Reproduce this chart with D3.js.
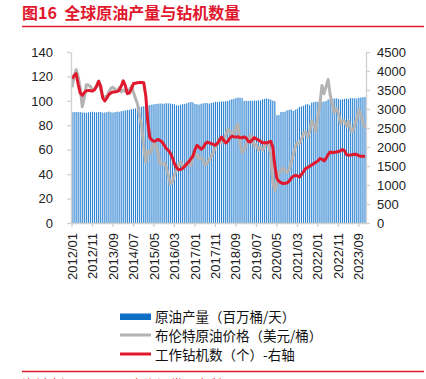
<!DOCTYPE html>
<html>
<head>
<meta charset="utf-8">
<script src="https://cdn.jsdelivr.net/npm/d3@7"></script>
<style>
  body { margin: 0; background: #fff; }
  svg { display: block; font-family: "Liberation Sans", "Noto Sans CJK SC", sans-serif; }
</style>
</head>
<body>
<div id="chart"></div>
<script>
// monthly data 2012/01 - 2023/12
var years = d3.range(2012, 2024);
var months = [];
years.forEach(function(y){ for (var m = 1; m <= 12; m++) months.push(y + "/" + (m < 10 ? "0" + m : m)); });

// 原油产量 (百万桶/天)
var production = [
  90.6, 90.8, 90.9, 90.7, 90.9, 90.5, 90.4, 90.2, 90.6, 90.8, 91.1, 90.7,
  90.6, 90.9, 91.0, 90.3, 90.5, 90.7, 91.2, 90.6, 90.4, 90.8, 91.2, 91.0,
  91.5, 91.8, 92.1, 92.5, 92.7, 93.1, 93.4, 93.8, 94.3, 94.8, 95.2, 95.6,
  95.8, 96.2, 96.6, 96.9, 97.2, 97.5, 97.6, 97.9, 97.7, 97.6, 98.1, 97.9,
  97.8, 97.5, 97.2, 96.4, 96.2, 96.9, 97.3, 97.5, 98.0, 98.6, 99.1, 98.8,
  97.5, 97.2, 97.0, 97.6, 97.9, 98.3, 98.1, 97.8, 98.4, 98.6, 99.2, 99.0,
  99.3, 99.5, 99.6, 99.7, 99.9, 100.6, 101.3, 101.6, 102.3, 102.7, 102.5, 102.3,
  100.0, 100.1, 99.9, 100.2, 100.0, 100.3, 100.1, 100.5, 100.3, 101.3, 101.6, 101.9,
  101.5, 101.0, 100.2, 99.7, 88.2, 88.5, 90.9, 91.0, 91.2, 92.3, 92.6, 92.9,
  91.7, 92.8, 93.5, 95.0, 95.4, 96.0, 97.0, 97.3, 96.5, 98.6, 98.9, 99.4,
  99.1, 99.6, 99.1, 99.4, 99.8, 101.1, 101.5, 101.3, 101.9, 102.0, 101.6, 101.0,
  101.3, 101.6, 101.9, 101.5, 102.4, 102.1, 102.2, 101.9, 102.6, 102.8, 102.9, 103.2
];

// 布伦特原油价格 (美元/桶)
var brent = [
  111.2, 119.7, 125.5, 119.8, 110.3, 95.2, 102.6, 113.2, 112.9, 111.7, 109.1, 109.5,
  112.3, 116.1, 109.5, 103.3, 103.3, 103.3, 107.4, 110.3, 111.2, 109.4, 107.9, 110.8,
  107.4, 108.8, 107.7, 108.1, 109.2, 111.9, 106.9, 101.9, 97.3, 87.3, 79.4, 62.3,
  49.8, 58.8, 57.0, 60.9, 65.6, 63.8, 56.8, 48.2, 48.5, 49.3, 45.9, 38.9,
  31.9, 33.5, 39.8, 43.3, 47.7, 49.9, 46.6, 47.2, 47.2, 51.4, 47.1, 55.0,
  55.5, 56.0, 52.5, 53.8, 51.4, 47.6, 49.1, 51.9, 55.2, 57.5, 62.7, 64.1,
  69.1, 65.7, 66.7, 71.6, 77.0, 74.4, 74.3, 73.0, 78.9, 81.0, 65.0, 57.7,
  60.2, 64.4, 66.9, 71.6, 70.3, 63.0, 64.2, 59.5, 62.3, 59.6, 62.7, 65.2,
  63.6, 55.5, 33.7, 26.6, 32.4, 40.8, 43.2, 45.0, 41.9, 41.5, 43.9, 50.2,
  55.3, 62.3, 65.8, 65.3, 68.3, 73.4, 74.3, 70.5, 74.9, 83.8, 80.8, 74.8,
  86.5, 97.1, 112.5, 105.9, 111.6, 117.5, 105.1, 97.7, 90.6, 93.6, 90.4, 81.3,
  83.9, 83.5, 79.2, 83.4, 75.7, 75.0, 80.1, 85.1, 92.6, 88.7, 82.0, 77.6
];

// 工作钻机数 (个) - 右轴
var rigs = [
  3800, 3880, 3930, 3650, 3420, 3360, 3430, 3480, 3490, 3480, 3470, 3510,
  3600, 3730, 3600, 3290, 3210, 3290, 3380, 3420, 3450, 3450, 3460, 3490,
  3600, 3740, 3620, 3405, 3420, 3530, 3670, 3680, 3690, 3700, 3695, 3690,
  3350, 2650, 2250, 2180, 2150, 2170, 2200, 2170, 2130, 2050, 1960, 1910,
  1840, 1720, 1560, 1460, 1405, 1410, 1440, 1490, 1560, 1610, 1690, 1760,
  1930, 2045, 2000, 1940, 1980, 2080, 2130, 2110, 2090, 2070, 2045, 2100,
  2180, 2264, 2180, 2106, 2150, 2230, 2282, 2270, 2260, 2270, 2250, 2240,
  2264, 2240, 2150, 2130, 2190, 2246, 2210, 2180, 2150, 2106, 2120, 2100,
  2130, 2150, 2000, 1500, 1168, 1100, 1060, 1037, 1045, 1053, 1100, 1180,
  1230, 1255, 1240, 1210, 1280, 1350, 1431, 1460, 1490, 1530, 1563, 1600,
  1630, 1694, 1680, 1632, 1700, 1800, 1869, 1850, 1860, 1869, 1880, 1900,
  1932, 1900, 1800, 1780, 1790, 1800, 1808, 1800, 1770, 1755, 1760, 1737
];

var leftTicks = [0, 20, 40, 60, 80, 100, 120, 140];
var rightTicks = [0, 500, 1000, 1500, 2000, 2500, 3000, 3500, 4000, 4500];
var xLabels = months.filter(function(d, i){ return i % 10 === 0; });
var legendNames = ["原油产量（百万桶/天）", "布伦特原油价格（美元/桶）", "工作钻机数（个）-右轴"];

var red = "#e0182d";
var W = 426, H = 379;
var plotL = 71, plotR = 366, plotT = 52, plotB = 223;

var svg = d3.select("#chart").append("svg")
    .attr("width", W)
    .attr("height", H);

// title
svg.append("text")
    .attr("x", 22).attr("y", 19)
    .attr("fill", red)
    .attr("font-size", 16)
    .attr("font-weight", "bold")
    .attr("font-family", "'Noto Sans CJK SC', sans-serif")
    .text("图16\u00a0\u00a0全球原油产量与钻机数量");
svg.append("line")
    .attr("x1", 22).attr("x2", 424).attr("y1", 26.5).attr("y2", 26.5)
    .attr("stroke", red).attr("stroke-width", 1.3);

var x = d3.scaleBand().domain(months).range([plotL, plotR]);
var yL = d3.scaleLinear().domain([0, 140]).range([plotB, plotT]);
var yR = d3.scaleLinear().domain([0, 4500]).range([plotB, plotT]);

// bars
svg.append("g").selectAll("rect")
    .data(production)
    .enter().append("rect")
    .attr("x", function(d, i){ return x(months[i]) + x.bandwidth() * 0.22; })
    .attr("width", x.bandwidth() * 0.56)
    .attr("y", function(d){ return yL(d); })
    .attr("height", function(d){ return yL(0) - yL(d); })
    .attr("fill", "#2f84d2");

var cx = function(d, i){ return x(months[i]) + x.bandwidth() / 2; };

svg.append("path")
    .datum(brent)
    .attr("fill", "none")
    .attr("stroke", "#b3b3b3")
    .attr("stroke-width", 3)
    .attr("stroke-linejoin", "round")
    .attr("d", d3.line().x(cx).y(function(d){ return yL(d); }));

svg.append("path")
    .datum(rigs)
    .attr("fill", "none")
    .attr("stroke", red)
    .attr("stroke-width", 3)
    .attr("stroke-linejoin", "round")
    .attr("d", d3.line().x(cx).y(function(d){ return yR(d); }));

// axes
var axisColor = "#d0d0d0";
function styleAxis(g) {
  g.select(".domain").attr("stroke", axisColor).attr("stroke-width", 1.3);
  g.selectAll(".tick line").attr("stroke", axisColor).attr("stroke-width", 1.3);
  g.selectAll(".tick text").attr("fill", "#222").attr("font-size", 13);
}

svg.append("g")
    .attr("transform", "translate(" + plotL + ",0)")
    .call(d3.axisLeft(yL).tickValues(leftTicks).tickSize(4).tickSizeOuter(0).tickPadding(14))
    .call(styleAxis);

svg.append("g")
    .attr("transform", "translate(" + plotR + ",0)")
    .call(d3.axisRight(yR).tickValues(rightTicks).tickFormat(d3.format("d")).tickSize(4).tickSizeOuter(0).tickPadding(7))
    .call(styleAxis);

var gx = svg.append("g")
    .attr("transform", "translate(0," + plotB + ")")
    .call(d3.axisBottom(x).tickValues(xLabels).tickSize(4).tickSizeOuter(0).tickPadding(7))
    .call(styleAxis);
gx.selectAll(".tick text")
    .attr("transform", "rotate(-90)")
    .attr("text-anchor", "end")
    .attr("dy", "0.35em")
    .attr("x", -10)
    .attr("y", 0);

// legend
var lg = svg.append("g").attr("transform", "translate(120,0)");
lg.append("rect").attr("x", 0).attr("y", 313.5).attr("width", 31).attr("height", 6.5).attr("fill", "#0f6fc6");
lg.append("line").attr("x1", 0).attr("x2", 31).attr("y1", 335).attr("y2", 335)
    .attr("stroke", "#b3b3b3").attr("stroke-width", 3);
lg.append("line").attr("x1", 0).attr("x2", 31).attr("y1", 354).attr("y2", 354)
    .attr("stroke", red).attr("stroke-width", 3);
lg.selectAll("text.lab")
    .data(legendNames)
    .enter().append("text")
    .attr("class", "lab")
    .attr("x", 35)
    .attr("y", function(d, i){ return 317 + i * 19; })
    .attr("dy", "0.35em")
    .attr("font-size", 13.5)
    .attr("fill", "#111")
    .attr("font-family", "'Noto Sans CJK SC', sans-serif")
    .text(function(d){ return d; });

// footer
svg.append("line")
    .attr("x1", 22).attr("x2", 424).attr("y1", 371.5).attr("y2", 371.5)
    .attr("stroke", red).attr("stroke-width", 1.3);
svg.append("text")
    .attr("x", 22).attr("y", 389)
    .attr("fill", red)
    .attr("font-size", 13)
    .attr("font-family", "'Noto Sans CJK SC', sans-serif")
    .text("资料来源：Wind，东海证券研究所");
</script>
</body>
</html>
